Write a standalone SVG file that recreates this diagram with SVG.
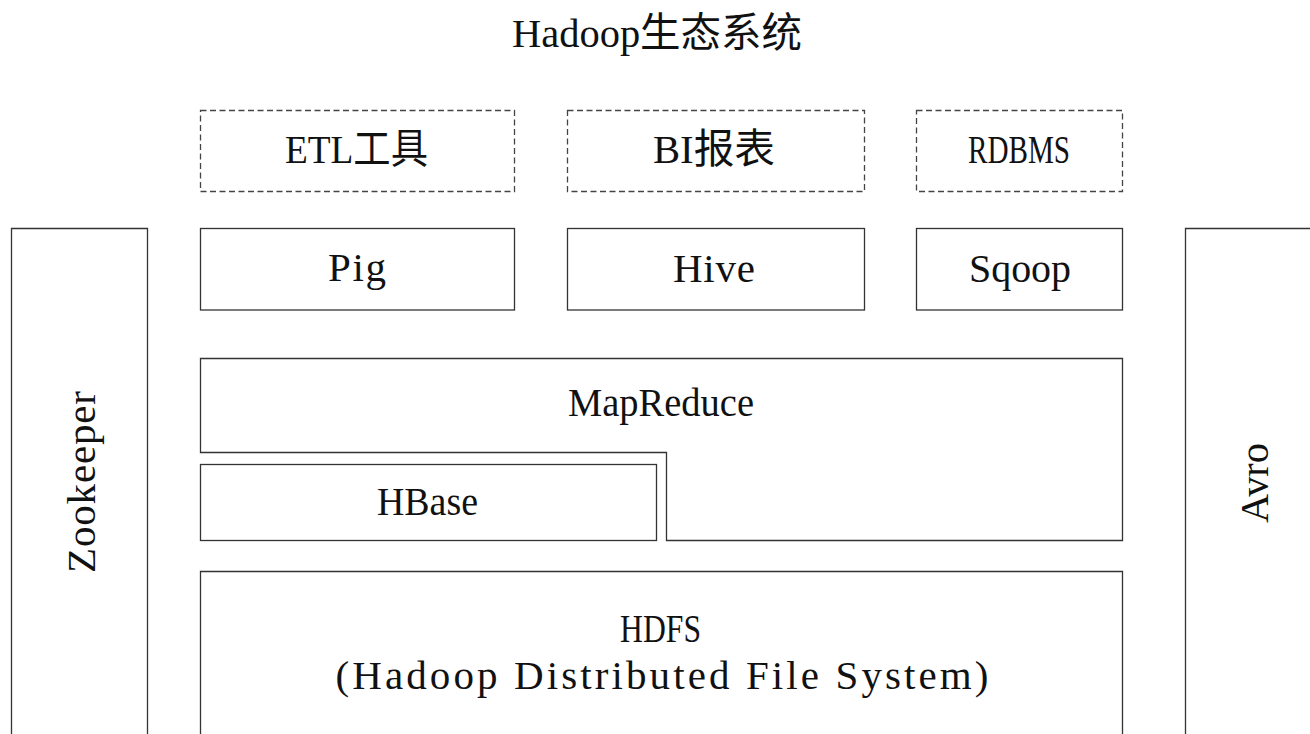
<svg xmlns="http://www.w3.org/2000/svg" width="1310" height="734" viewBox="0 0 1310 734">
<style>
  .box { fill: #ffffff; stroke: #333333; stroke-width: 1.3; }
  .dash { fill: #ffffff; stroke: #444444; stroke-width: 1.3; stroke-dasharray: 6 3.5; }
  .t { font-family: "Liberation Serif", "Noto Sans CJK SC", serif; font-size: 41px; fill: #111111; text-anchor: middle; }
</style>
<rect width="1310" height="734" fill="#ffffff"/>

<g id="title">
  <text class="t" x="657" y="47" textLength="290" lengthAdjust="spacingAndGlyphs">Hadoop生态系统</text>
</g>

<g id="etl">
  <rect class="dash" x="200.5" y="110.5" width="314" height="81"/>
  <text class="t" x="356.5" y="163" textLength="143" lengthAdjust="spacingAndGlyphs">ETL工具</text>
</g>
<g id="bi">
  <rect class="dash" x="567.5" y="110.5" width="297" height="81"/>
  <text class="t" x="714" y="163" textLength="122" lengthAdjust="spacingAndGlyphs">BI报表</text>
</g>
<g id="rdbms">
  <rect class="dash" x="916.5" y="110.5" width="206" height="81"/>
  <text class="t" x="1019" y="163" textLength="102" lengthAdjust="spacingAndGlyphs">RDBMS</text>
</g>

<g id="pig">
  <rect class="box" x="200.5" y="228.5" width="314" height="81.5"/>
  <text class="t" x="357" y="281" textLength="58" lengthAdjust="spacing">Pig</text>
</g>
<g id="hive">
  <rect class="box" x="567.5" y="228.5" width="297" height="81.5"/>
  <text class="t" x="714" y="282" textLength="82" lengthAdjust="spacing">Hive</text>
</g>
<g id="sqoop">
  <rect class="box" x="916.5" y="228.5" width="206" height="81.5"/>
  <text class="t" x="1020" y="282" textLength="102" lengthAdjust="spacingAndGlyphs">Sqoop</text>
</g>

<g id="zookeeper">
  <path class="box" d="M11.5,740 L11.5,228.5 L147.5,228.5 L147.5,740"/>
  <text class="t" transform="translate(95,482) rotate(-90)" x="0" y="0" textLength="182" lengthAdjust="spacing">Zookeeper</text>
</g>
<g id="avro">
  <path class="box" d="M1185.5,740 L1185.5,228.5 L1320,228.5"/>
  <text class="t" transform="translate(1268,483) rotate(-90)" x="0" y="0" textLength="80" lengthAdjust="spacingAndGlyphs">Avro</text>
</g>

<g id="mapreduce">
  <path class="box" d="M200.5,358.5 L1122.5,358.5 L1122.5,540.5 L666.5,540.5 L666.5,452.5 L200.5,452.5 Z"/>
  <text class="t" x="661" y="416" textLength="186" lengthAdjust="spacingAndGlyphs">MapReduce</text>
</g>
<g id="hbase">
  <rect class="box" x="200.5" y="464.5" width="456" height="76"/>
  <text class="t" x="427.5" y="515" textLength="101" lengthAdjust="spacingAndGlyphs">HBase</text>
</g>
<g id="hdfs">
  <path class="box" d="M200.5,740 L200.5,571.5 L1122.5,571.5 L1122.5,740"/>
  <text class="t" x="660.5" y="642" textLength="81" lengthAdjust="spacingAndGlyphs">HDFS</text>
  <text class="t" x="662" y="689" textLength="653" lengthAdjust="spacing">(Hadoop Distributed File System)</text>
</g>

<g id="connectors"></g>
</svg>
